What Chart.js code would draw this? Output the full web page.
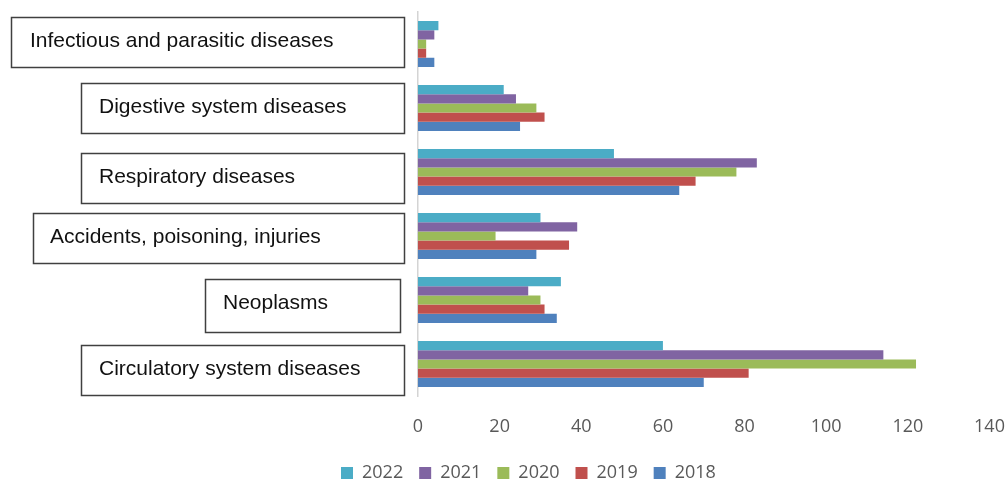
<!DOCTYPE html>
<html>
<head>
<meta charset="utf-8">
<script src="https://cdn.jsdelivr.net/npm/chart.js@4.4.1/dist/chart.umd.min.js"></script>
<style>
  html, body { margin: 0; padding: 0; background: #fff; }
  #wrap { width: 1007px; height: 480px; position: relative; }
</style>
</head>
<body>
<div id="wrap"><canvas id="myChart"></canvas></div>
<script>
/************** Causes of death by year ******/
var categories = ["Infectious and parasitic diseases", "Digestive system diseases", "Respiratory diseases",
                  "Accidents, poisoning, injuries", "Neoplasms", "Circulatory system diseases"];
var years = ["2022", "2021", "2020", "2019", "2018"];
var values2022 = [5, 21, 48, 30, 35, 60];
var values2021 = [4, 24, 83, 39, 27, 114];
var values2020 = [2, 29, 78, 19, 30, 122];
var values2019 = [2, 31, 68, 37, 31, 81];
var values2018 = [4, 25, 64, 29, 34, 70];
var xTicks = [0, 20, 40, 60, 80, 100, 120, 140];
var barColors = ["#4bacc6", "#8064a2", "#9bbb59", "#c0504d", "#4f81bd"];

var seriesValues = [values2022, values2021, values2020, values2019, values2018];

// framed category names on the left (offsets relative to the category centre)
var boxLayout = [
  {x: 11, w: 393, dy: -27, h: 50, tx: 30},
  {x: 81, w: 323, dy: -25, h: 50, tx: 99},
  {x: 81, w: 323, dy: -19, h: 50, tx: 99},
  {x: 33, w: 371, dy: -23, h: 50, tx: 50},
  {x: 205, w: 195, dy: -21, h: 53, tx: 223},
  {x: 81, w: 323, dy: -19, h: 50, tx: 99}
];

var labelBoxes = {
  id: 'labelBoxes',
  afterDraw: function(chart) {
    var ctx = chart.ctx;
    var yScale = chart.scales.y;
    ctx.save();
    ctx.font = '21px "Liberation Sans", Arial, sans-serif';
    ctx.textBaseline = 'alphabetic';
    ctx.textAlign = 'left';
    categories.forEach(function(name, i) {
      var b = boxLayout[i];
      var top = Math.round(yScale.getPixelForValue(i) + b.dy) + 0.5;
      ctx.fillStyle = '#fff';
      ctx.fillRect(b.x, top, b.w, b.h);
      ctx.strokeStyle = '#404040';
      ctx.lineWidth = 1.5;
      ctx.strokeRect(b.x + 0.5, top, b.w, b.h);
      ctx.fillStyle = '#111';
      ctx.fillText(name, b.tx, top + 29.5);
    });
    ctx.restore();
  }
};

// move the legend under the axis, left of centre like the original
var legendPlace = {
  id: 'legendPlace',
  afterLayout: function(chart) {
    var lg = chart.legend;
    var h = lg.bottom - lg.top;
    lg.top = 448;
    lg.bottom = lg.top + h;
    lg.left = 325;
  }
};

new Chart("myChart", {
  type: "bar",
  data: {
    labels: categories,
    datasets: years.map(function(y, i) {
      return {
        label: y,
        data: seriesValues[i],
        backgroundColor: barColors[i],
        borderWidth: 0,
        categoryPercentage: 0.72,
        barPercentage: 1
      };
    })
  },
  options: {
    indexAxis: 'y',
    responsive: true,
    maintainAspectRatio: false,
    animation: false,
    layout: {padding: {left: 418, right: 17.5, top: 12, bottom: 0}},
    scales: {
      x: {
        min: 0,
        max: 140,
        afterBuildTicks: function(axis) {
          axis.ticks = xTicks.map(function(v) { return {value: v}; });
        },
        afterFit: function(axis) {
          axis.height = 40;
          axis.paddingLeft = 0;
          axis.paddingRight = 0;
        },
        grid: {display: false, drawTicks: false},
        border: {display: false},
        ticks: {
          color: '#595959',
          padding: 20,
          font: {family: '"Open Sans", sans-serif', size: 18}
        }
      },
      y: {
        afterFit: function(axis) { axis.width = 0; },
        grid: {display: false, drawTicks: false},
        border: {display: true, color: '#d4d4d4', width: 1.5},
        ticks: {display: false}
      }
    },
    plugins: {
      legend: {
        position: 'bottom',
        align: 'start',
        labels: {
          boxWidth: 12,
          boxHeight: 12,
          padding: 16,
          color: '#595959',
          font: {family: '"Open Sans", sans-serif', size: 18}
        }
      },
      tooltip: {enabled: false}
    }
  },
  plugins: [labelBoxes, legendPlace]
});
</script>
</body>
</html>
